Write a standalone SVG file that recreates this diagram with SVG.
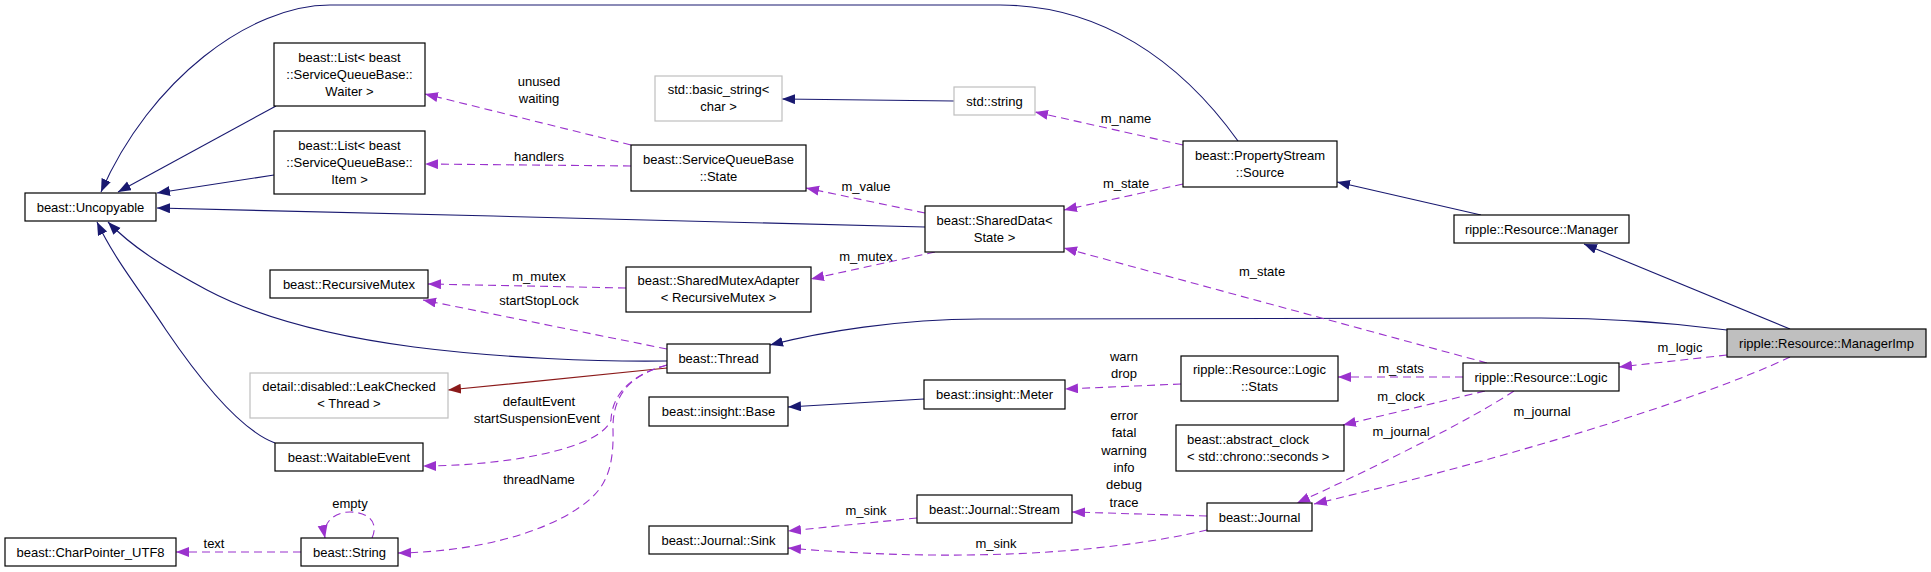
<svg xmlns="http://www.w3.org/2000/svg" width="1931" height="572" viewBox="0 0 1931 572">
<style>
.n rect{fill:#fff;stroke:#000;stroke-width:1.2}
.g rect{fill:#fff;stroke:#bfbfbf;stroke-width:1.2}
text{font-family:"Liberation Sans",Arial,Helvetica,sans-serif;font-size:13px;fill:#000}
.n text,.g text,.l text{text-anchor:middle}
.e path{fill:none;stroke-width:1.1}
.b{stroke:#191970;marker-end:url(#mb)}
.p{stroke:#9a32cd;stroke-dasharray:8,5;marker-end:url(#mp)}
.r{stroke:#8b1a1a;marker-end:url(#mr)}
</style>
<defs>
<marker id="mb" markerUnits="userSpaceOnUse" markerWidth="14" markerHeight="11" refX="13" refY="5" orient="auto"><path d="M0,0 L13,5 L0,10 z" fill="#191970"/></marker>
<marker id="mp" markerUnits="userSpaceOnUse" markerWidth="14" markerHeight="11" refX="13" refY="5" orient="auto"><path d="M0,0 L13,5 L0,10 z" fill="#9a32cd"/></marker>
<marker id="mr" markerUnits="userSpaceOnUse" markerWidth="14" markerHeight="11" refX="13" refY="5" orient="auto"><path d="M0,0 L13,5 L0,10 z" fill="#8b1a1a"/></marker>
</defs>
<rect width="1931" height="572" fill="#fff"/>
<g id="connectors" class="e">
<path class="b" d="M1238,141 C1180,60 1100,5 1000,5 L330,5 C250,5 150,80 101,192"/>
<path class="b" d="M276,106 L118,192"/>
<path class="b" d="M274,175 L157,193"/>
<path class="b" d="M925,227 C700,222 400,213 157,208"/>
<path class="b" d="M667,361 C600,362 500,358 414,347 C330,336 260,318 207,290 C170,270 135,250 108,222"/>
<path class="b" d="M275,443 C240,430 200,380 166,330 C140,290 115,260 97,222"/>
<path class="b" d="M954,101 L782,99"/>
<path class="b" d="M1481,215 L1337,182"/>
<path class="b" d="M1790,329 L1584,244"/>
<path class="b" d="M1727,330 C1650,320 1580,318 1541,318 L980,319 C900,319 820,332 770,345"/>
<path class="b" d="M924,399 L788,407"/>
<path class="r" d="M667,368 C600,375 520,383 448,390"/>
<path class="p" d="M631,145 L425,94"/>
<path class="p" d="M631,166 L425,164"/>
<path class="p" d="M626,288 L428,284"/>
<path class="p" d="M667,349 L423,300"/>
<path class="p" d="M667,365 C630,375 612,395 611,420 C600,450 500,466 423,466"/>
<path class="p" d="M667,365 C630,375 612,395 613,430 C614,470 605,490 580,507 C540,535 470,552 398,553"/>
<path class="p" d="M372,538 C380,520 365,512 350,512 C335,512 322,522 325,538"/>
<path class="p" d="M301,552 L176,552"/>
<path class="p" d="M1183,145 L1035,112"/>
<path class="p" d="M1183,184 L1064,210"/>
<path class="p" d="M925,213 L806,188"/>
<path class="p" d="M935,252 L811,279"/>
<path class="p" d="M1487,363 L1064,248"/>
<path class="p" d="M1727,355 L1619,367"/>
<path class="p" d="M1463,377 L1338,377"/>
<path class="p" d="M1181,384 L1065,389"/>
<path class="p" d="M1485,391 L1343,425"/>
<path class="p" d="M1514,391 C1470,420 1380,465 1297,503"/>
<path class="p" d="M1790,357 C1700,400 1500,460 1314,504"/>
<path class="p" d="M1207,516 L1072,512"/>
<path class="p" d="M917,518 L788,531"/>
<path class="p" d="M1207,530 C1100,555 950,562 788,548"/>
</g>
<g id="edge-labels" class="l">
<text x="539" y="86">unused</text>
<text x="539" y="103">waiting</text>
<text x="539" y="161">handlers</text>
<text x="539" y="281">m_mutex</text>
<text x="539" y="305">startStopLock</text>
<text x="539" y="406">defaultEvent</text>
<text x="537" y="423">startSuspensionEvent</text>
<text x="539" y="484">threadName</text>
<text x="350" y="508">empty</text>
<text x="214" y="548">text</text>
<text x="1126" y="123">m_name</text>
<text x="1126" y="188">m_state</text>
<text x="866" y="191">m_value</text>
<text x="866" y="261">m_mutex</text>
<text x="1262" y="276">m_state</text>
<text x="1124" y="361">warn</text>
<text x="1124" y="378">drop</text>
<text x="1124" y="420">error</text>
<text x="1124" y="437">fatal</text>
<text x="1124" y="455">warning</text>
<text x="1124" y="472">info</text>
<text x="1124" y="489">debug</text>
<text x="1124" y="507">trace</text>
<text x="866" y="515">m_sink</text>
<text x="996" y="548">m_sink</text>
<text x="1680" y="352">m_logic</text>
<text x="1401" y="373">m_stats</text>
<text x="1401" y="401">m_clock</text>
<text x="1401" y="436">m_journal</text>
<text x="1542" y="416">m_journal</text>
</g>
<g id="node-uncopyable" class="n"><rect x="25" y="193" width="131" height="28"/><text x="90.5" y="211.5">beast::Uncopyable</text></g>
<g id="node-list-waiter" class="n"><rect x="274" y="43" width="151" height="63"/><text x="349.5" y="62">beast::List&lt; beast</text><text x="349.5" y="79">::ServiceQueueBase::</text><text x="349.5" y="96">Waiter &gt;</text></g>
<g id="node-list-item" class="n"><rect x="274" y="131" width="151" height="63"/><text x="349.5" y="150">beast::List&lt; beast</text><text x="349.5" y="167">::ServiceQueueBase::</text><text x="349.5" y="184">Item &gt;</text></g>
<g id="node-recursivemutex" class="n"><rect x="270" y="270" width="158" height="28"/><text x="349" y="288.5">beast::RecursiveMutex</text></g>
<g id="node-leakchecked" class="g"><rect x="250" y="373" width="198" height="45"/><text x="349" y="391">detail::disabled::LeakChecked</text><text x="349" y="408">&lt; Thread &gt;</text></g>
<g id="node-waitableevent" class="n"><rect x="275" y="443" width="148" height="28"/><text x="349" y="461.5">beast::WaitableEvent</text></g>
<g id="node-charpointer" class="n"><rect x="5" y="538" width="171" height="28"/><text x="90.5" y="556.5">beast::CharPointer_UTF8</text></g>
<g id="node-string" class="n"><rect x="301" y="538" width="97" height="28"/><text x="349.5" y="556.5">beast::String</text></g>
<g id="node-basic-string" class="g"><rect x="655" y="76" width="127" height="45"/><text x="718.5" y="94">std::basic_string&lt;</text><text x="718.5" y="111">char &gt;</text></g>
<g id="node-std-string" class="g"><rect x="954" y="87" width="81" height="28"/><text x="994.5" y="105.5">std::string</text></g>
<g id="node-sqb-state" class="n"><rect x="631" y="145" width="175" height="46"/><text x="718.5" y="164">beast::ServiceQueueBase</text><text x="718.5" y="181">::State</text></g>
<g id="node-shareddata" class="n"><rect x="925" y="206" width="139" height="46"/><text x="994.5" y="225">beast::SharedData&lt;</text><text x="994.5" y="242">State &gt;</text></g>
<g id="node-propertystream-source" class="n"><rect x="1183" y="141" width="154" height="46"/><text x="1260" y="160">beast::PropertyStream</text><text x="1260" y="177">::Source</text></g>
<g id="node-sharedmutexadapter" class="n"><rect x="626" y="267" width="185" height="45"/><text x="718.5" y="285">beast::SharedMutexAdapter</text><text x="718.5" y="302">&lt; RecursiveMutex &gt;</text></g>
<g id="node-thread" class="n"><rect x="667" y="344" width="103" height="29"/><text x="718.5" y="363">beast::Thread</text></g>
<g id="node-insight-base" class="n"><rect x="649" y="397" width="139" height="29"/><text x="718.5" y="416">beast::insight::Base</text></g>
<g id="node-insight-meter" class="n"><rect x="924" y="380" width="141" height="29"/><text x="994.5" y="399">beast::insight::Meter</text></g>
<g id="node-logic-stats" class="n"><rect x="1181" y="356" width="157" height="45"/><text x="1259.5" y="374">ripple::Resource::Logic</text><text x="1259.5" y="391">::Stats</text></g>
<g id="node-abstract-clock" class="n"><rect x="1176" y="425" width="168" height="46"/><text x="1187" y="444" style="text-anchor:start">beast::abstract_clock</text><text x="1187" y="461" style="text-anchor:start">&lt; std::chrono::seconds &gt;</text></g>
<g id="node-journal-stream" class="n"><rect x="917" y="495" width="155" height="28"/><text x="994.5" y="513.5">beast::Journal::Stream</text></g>
<g id="node-journal" class="n"><rect x="1207" y="503" width="105" height="28"/><text x="1259.5" y="521.5">beast::Journal</text></g>
<g id="node-journal-sink" class="n"><rect x="649" y="526" width="139" height="28"/><text x="718.5" y="544.5">beast::Journal::Sink</text></g>
<g id="node-manager" class="n"><rect x="1454" y="215" width="175" height="28"/><text x="1541.5" y="233.5">ripple::Resource::Manager</text></g>
<g id="node-logic" class="n"><rect x="1463" y="363" width="156" height="28"/><text x="1541" y="381.5">ripple::Resource::Logic</text></g>
<g id="node-managerimp" class="n"><rect x="1727" y="329" width="199" height="28" style="fill:#bfbfbf"/><text x="1826.5" y="347.5">ripple::Resource::ManagerImp</text></g>
</svg>
